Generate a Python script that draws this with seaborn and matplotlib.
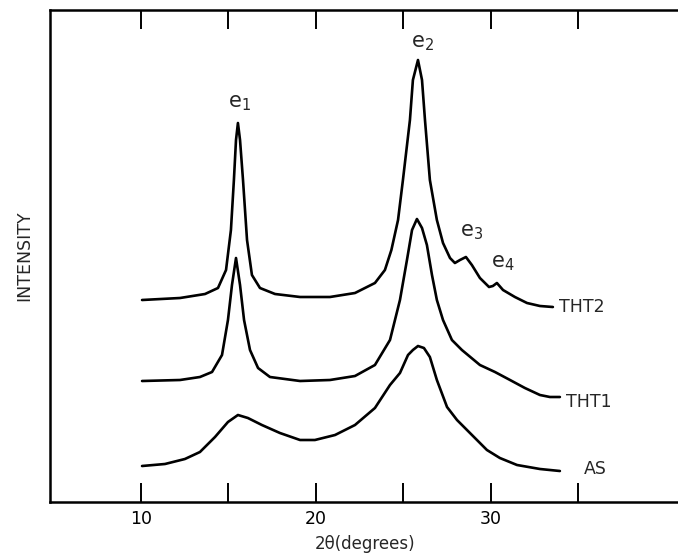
import matplotlib
matplotlib.use("Agg")
import matplotlib.pyplot as plt
import seaborn as sns
import pandas as pd

# ---- data (2-theta in degrees, intensity in arbitrary units) ----
as_theta = [10.06, 11.37, 12.51, 13.37, 14.23, 14.97, 15.54, 16.11, 16.91, 17.94,
            19.09, 19.94, 21.09, 22.23, 23.37, 24.23, 24.80, 25.26, 25.54, 25.83,
            26.17, 26.51, 26.91, 27.49, 28.06, 28.63, 29.77, 30.51, 31.49, 32.80, 33.94]
as_int = [36, 38, 43, 50, 65, 80, 87, 84, 77, 69,
          62, 62, 67, 77, 94, 117, 129, 147, 152, 156,
          154, 145, 122, 95, 82, 72, 52, 44, 37, 33, 31]

tht1_theta = [10.06, 12.23, 13.37, 14.06, 14.63, 14.97, 15.20, 15.43, 15.66, 15.89,
              16.23, 16.69, 17.37, 19.09, 20.80, 22.23, 23.37, 24.23, 24.80, 25.20,
              25.49, 25.77, 26.06, 26.34, 26.63, 26.91, 27.26, 27.77, 28.34, 29.37,
              30.23, 31.09, 31.94, 32.80, 33.37, 33.94]
tht1_int = [121, 122, 125, 130, 147, 182, 217, 244, 217, 182,
            152, 134, 125, 121, 122, 126, 137, 162, 202, 242,
            272, 283, 274, 257, 227, 202, 182, 162, 152, 137,
            130, 122, 114, 107, 105, 105]

tht2_theta = [10.06, 12.23, 13.66, 14.40, 14.86, 15.14, 15.31, 15.43, 15.54, 15.66,
              15.83, 16.06, 16.34, 16.80, 17.66, 19.09, 20.80, 22.23, 23.37, 23.94,
              24.31, 24.69, 24.97, 25.37, 25.54, 25.83, 26.06, 26.23, 26.51, 26.91,
              27.26, 27.66, 27.94, 28.23, 28.57, 28.91, 29.37, 29.89, 30.11, 30.34,
              30.69, 31.37, 32.06, 32.80, 33.54]
tht2_int = [202, 204, 208, 214, 232, 272, 322, 362, 379, 362,
            322, 262, 227, 214, 208, 205, 205, 209, 219, 232,
            252, 282, 322, 382, 422, 442, 422, 382, 322, 282,
            259, 244, 239, 242, 245, 237, 224, 215, 216, 219,
            212, 205, 199, 196, 195]

sample_names = ["AS", "THT1", "THT2"]
peak_labels = ["e$_1$", "e$_2$", "e$_3$", "e$_4$"]
x_ticks = [10, 15, 20, 25, 30, 35]
x_ticklabels = ["10", "", "20", "", "30", ""]

frames = []
for name, th, it in zip(sample_names,
                        [as_theta, tht1_theta, tht2_theta],
                        [as_int, tht1_int, tht2_int]):
    frames.append(pd.DataFrame({"theta": th, "intensity": it, "sample": name}))
df = pd.concat(frames, ignore_index=True)

sns.set_style("white")
plt.rcParams["font.family"] = ["DejaVu Sans"]

fig = plt.figure(figsize=(6.78, 5.53), dpi=100)
ax = fig.add_axes([50 / 678, 51 / 553, 628 / 678, 492.5 / 553])

for name in sample_names:
    sns.lineplot(data=df[df["sample"] == name], x="theta", y="intensity",
                 color="black", linewidth=1.9, ax=ax, legend=False,
                 sort=False, estimator=None)

ax.set_xlim(4.8, 40.69)
ax.set_ylim(0, 492.5)
ax.set_xticks(x_ticks)
ax.set_xticklabels(x_ticklabels, fontsize=12.5)
ax.set_yticks([])
ax.tick_params(axis="x", direction="in", length=13.5, width=1.4,
               top=True, bottom=True, pad=6, colors="black")
for s in ["left", "bottom", "top"]:
    ax.spines[s].set_visible(True)
    ax.spines[s].set_linewidth(1.8)
    ax.spines[s].set_color("black")
ax.spines["right"].set_visible(False)

ax.set_xlabel("2\u03b8(degrees)", fontsize=12)
ax.xaxis.set_label_coords((365 - 50) / 628, -0.066)
ax.set_ylabel("INTENSITY", fontsize=12.5, labelpad=12)

# curve labels
ax.text(33.9, 502 - 307, "THT2", fontsize=12.5, va="center", ha="left")
ax.text(34.3, 502 - 402, "THT1", fontsize=12.5, va="center", ha="left")
ax.text(35.3, 502 - 469, "AS", fontsize=12.5, va="center", ha="left")

# peak labels
ax.text(15.6, 502 - 103, peak_labels[0], fontsize=15, ha="center", va="center")
ax.text(26.1, 502 - 43, peak_labels[1], fontsize=15, ha="center", va="center")
ax.text(28.9, 502 - 232, peak_labels[2], fontsize=15, ha="center", va="center")
ax.text(30.7, 502 - 263, peak_labels[3], fontsize=15, ha="center", va="center")

fig.savefig("out.png", dpi=100)
